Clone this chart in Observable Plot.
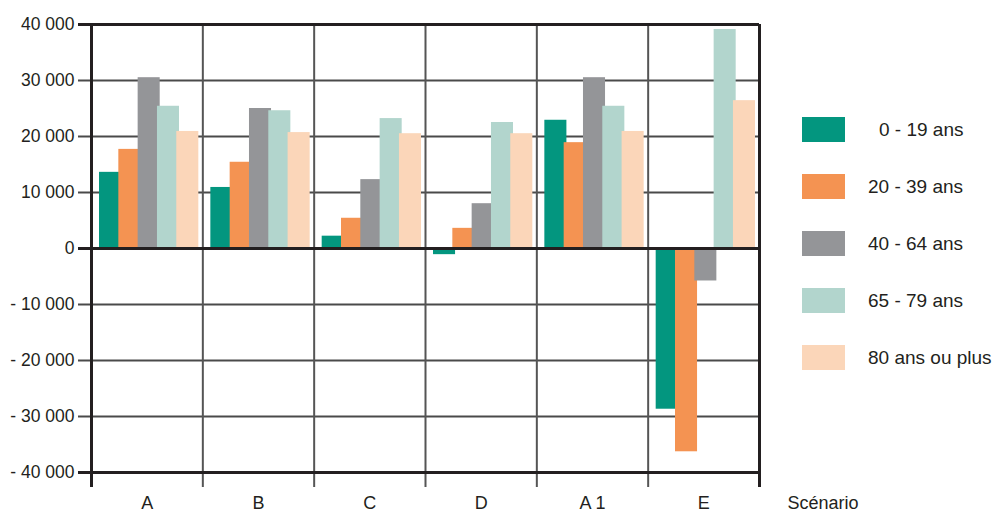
<!DOCTYPE html>
<html>
<head>
<meta charset="utf-8">
<script src="https://cdn.jsdelivr.net/npm/d3@7"></script>
<script src="https://cdn.jsdelivr.net/npm/@observablehq/plot@0.6"></script>
<style>
  body { margin: 0; background: #fff; }
  #wrap { position: relative; width: 997px; height: 515px; font-family: "Liberation Sans", Arial, sans-serif; color: #231f20; }
  #legend { position: absolute; left: 802px; top: 117px; }
  .row { display: flex; align-items: center; height: 25px; margin-bottom: 32px; }
  .sw { width: 43px; height: 25px; flex: none; }
  .lab { margin-left: 23px; font-size: 19px; white-space: pre; }
</style>
</head>
<body>
<div id="wrap"></div>
<script>
// ---- data ----
const scenarios = ["A", "B", "C", "D", "A 1", "E"];
const ages = ["0 - 19 ans", "20 - 39 ans", "40 - 64 ans", "65 - 79 ans", "80 ans ou plus"];
const v0_19   = [13600, 10900, 2200, -1100, 22900, -28700];
const v20_39  = [17700, 15400, 5400, 3600, 18900, -36300];
const v40_64  = [30500, 25000, 12300, 8000, 30500, -5800];
const v65_79  = [25400, 24600, 23200, 22500, 25400, 39100];
const v80plus = [20900, 20700, 20500, 20500, 20900, 26400];
const yTicks = [-40000, -30000, -20000, -10000, 0, 10000, 20000, 30000, 40000];
const colors = ["#03967f", "#f49352", "#949598", "#b2d5cd", "#fbd6b9"];

// ---- build table ----
const series = [v0_19, v20_39, v40_64, v65_79, v80plus];
const rows = [];
series.forEach((vals, j) => vals.forEach((v, i) => rows.push({scenario: scenarios[i], i, j, age: ages[j], value: v})));

// layout of bars inside each scenario band (fractions of the band)
const OFF = 0.072, STEP = 0.1735, BW = 0.198;

const fmt = d => d === 0 ? "0" : (d < 0 ? "- " : "") + d3.format(",")(Math.abs(d)).replace(/,/g, " ");
const bounds = d3.range(scenarios.length + 1);
const thick = d => d === 0 || Math.abs(d) === 40000;

const chart = Plot.plot({
  width: 997,
  height: 515,
  marginLeft: 91,
  marginRight: 238,
  marginTop: 24,
  marginBottom: 43,
  style: {fontFamily: "Liberation Sans, Arial, sans-serif", color: "#231f20", background: "#fff"},
  x: {domain: [0, scenarios.length], axis: null},
  y: {domain: [-40000, 40000], axis: null},
  color: {domain: ages, range: colors},
  marks: [
    Plot.ruleY(yTicks.filter(d => !thick(d)), {y: d => d, stroke: "#4a4a4a", strokeWidth: 1.8, insetLeft: -13}),
    Plot.rectY(rows, {
      x1: d => d.i + OFF + STEP * d.j,
      x2: d => d.i + OFF + STEP * d.j + BW,
      y1: 0, y2: "value", fill: "age"
    }),
    Plot.ruleX(bounds.filter(b => b > 0 && b < scenarios.length), {x: d => d, stroke: "#555", strokeWidth: 2, insetBottom: -15}),
    Plot.ruleX([0, scenarios.length], {x: d => d, stroke: "#231f20", strokeWidth: 3, insetBottom: -15}),
    Plot.ruleY(yTicks.filter(thick), {y: d => d, stroke: "#231f20", strokeWidth: 3, insetLeft: -13}),
    Plot.text(yTicks, {y: d => d, text: fmt, frameAnchor: "left", textAnchor: "end", dx: -17, fontSize: 17.5, fill: "#231f20"}),
    Plot.text(scenarios, {x: (d, i) => i + 0.5, text: d => d, frameAnchor: "bottom", lineAnchor: "top", dy: 24, fontSize: 18, fill: "#231f20"}),
    Plot.text(["Scénario"], {frameAnchor: "bottom-right", textAnchor: "start", lineAnchor: "top", dx: 28, dy: 24, fontSize: 18, fill: "#231f20"})
  ]
});

const wrap = document.getElementById("wrap");
wrap.appendChild(chart);

const legend = document.createElement("div");
legend.id = "legend";
ages.forEach((a, j) => {
  const row = document.createElement("div");
  row.className = "row";
  row.innerHTML = `<div class="sw" style="background:${colors[j]}"></div><div class="lab" style="${j === 0 ? 'padding-left:11px' : ''}">${a}</div>`;
  legend.appendChild(row);
});
wrap.appendChild(legend);
</script>
</body>
</html>
